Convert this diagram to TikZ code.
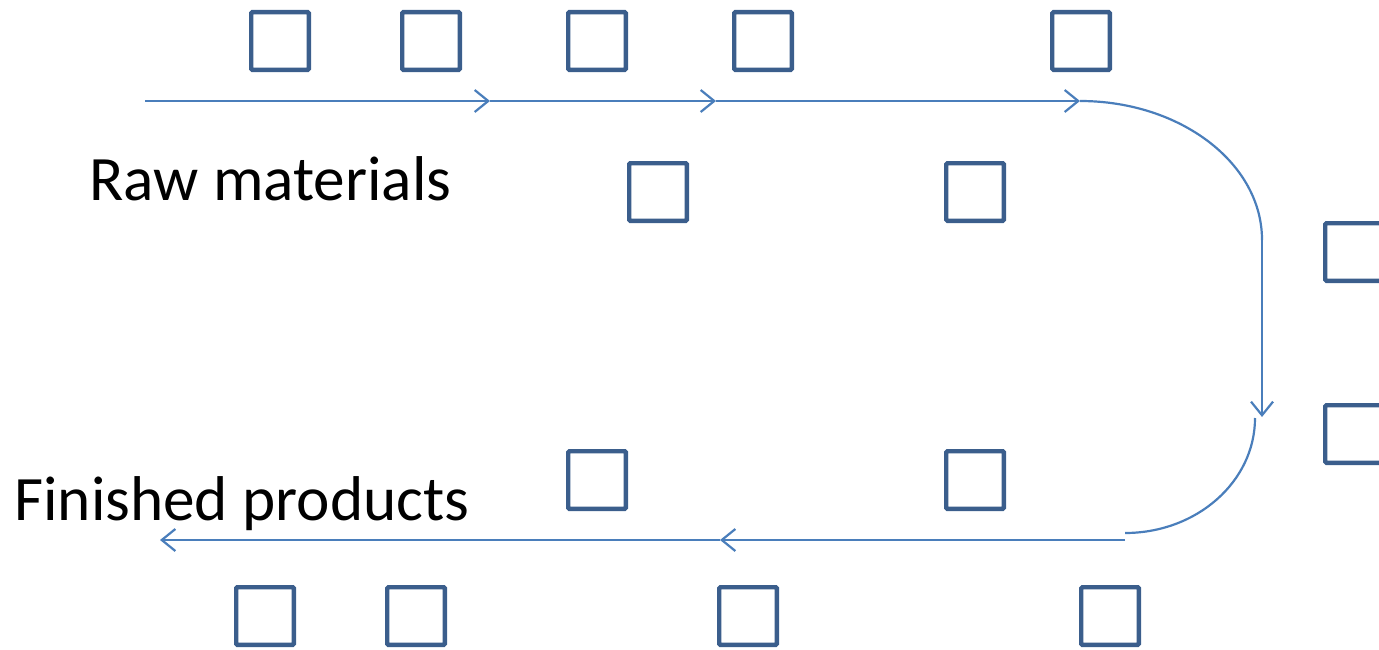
\documentclass[tikz,border=0pt]{standalone}
\usepackage{fontspec}
\setmainfont{Carlito}
\usepackage{tikz}
\usetikzlibrary{arrows.meta,positioning,calc}
\definecolor{boxblue}{HTML}{3B5E8C}
\definecolor{flowblue}{HTML}{4A7EBB}

\begin{document}
\begin{tikzpicture}[x=0.25mm,y=-0.25mm,
 sq/.style={draw=boxblue,line width=1.1mm,rounded corners=0.3mm,minimum size=14.4mm,inner sep=0pt},
 lbl/.style={font=\fontsize{45}{54}\selectfont,inner sep=0pt,anchor=base west},
 flow/.style={draw=flowblue,line width=0.55mm},
 arr/.style={flow,-{Straight Barb[length=3.4mm,width=5.5mm,line width=0.55mm]}}]
\useasboundingbox (0,0) rectangle (1379,649);
% workstations
\foreach \n/\x/\y in {t1/280/41,t2/431/41,t3/597/41,t4/763/41,t5/1081/41,
  m1/658/192,m2/975/192,r1/1354/252,r2/1354/434,
  l1/597/480,l2/975/480,b1/265/616,b2/416/616,b3/748/616,b4/1110/616}
  {\node[sq] (\n) at (\x,\y) {};}
\node[lbl] (raw) at (89,200) {Raw materials};
\node[lbl] (fin) at (14,520) {Finished products};
% flow of material
\coordinate (a0) at (145,101); \coordinate (a1) at (490,101);
\coordinate (a2) at (716,101); \coordinate (a3) at (1080,101);
\coordinate (a4) at (1262,240); \coordinate (a5) at (1262,417);
\coordinate (b0) at (1255,418); \coordinate (c0) at (1125,540);
\coordinate (c1) at (720,540); \coordinate (c2) at (160,540);
\draw[arr] (a0) -- (a1); \draw[arr] (a1) -- (a2); \draw[arr] (a2) -- (a3);
\draw[flow] (a3) arc[start angle=-90,end angle=0,x radius=182,y radius=139];
\draw[arr] (a4) -- (a5);
\draw[flow] (b0) arc[start angle=0,end angle=90,x radius=130,y radius=115];
\draw[arr] (c0) -- (c1); \draw[arr] (c1) -- (c2);
\end{tikzpicture}
\end{document}
